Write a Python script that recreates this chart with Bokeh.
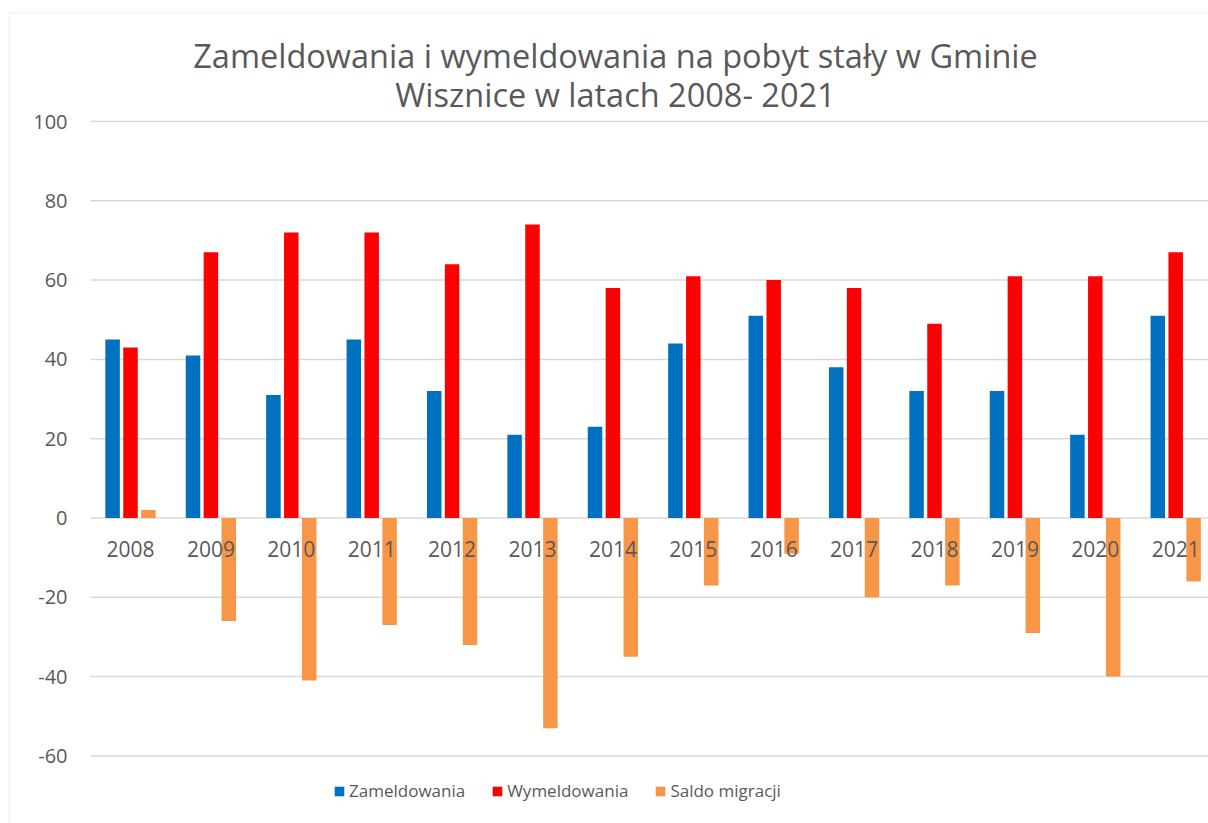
from bokeh.plotting import figure
from bokeh.models import (ColumnDataSource, Range1d, Legend, LegendItem,
                          Label, BoxAnnotation)
from bokeh.transform import dodge
from bokeh.core.properties import value
from bokeh.embed import file_html
from bokeh.resources import INLINE

years = ["2008", "2009", "2010", "2011", "2012", "2013", "2014",
         "2015", "2016", "2017", "2018", "2019", "2020", "2021"]
zameldowania = [45, 41, 31, 45, 32, 21, 23, 44, 51, 38, 32, 32, 21, 51]
wymeldowania = [43, 67, 72, 72, 64, 74, 58, 61, 60, 58, 49, 61, 61, 67]
saldo = [2, -26, -41, -27, -32, -53, -35, -17, -9, -20, -17, -29, -40, -16]
y_ticks = [-60, -40, -20, 0, 20, 40, 60, 80, 100]
series_names = ["Zameldowania", "Wymeldowania", "Saldo migracji"]
title_lines = ["Zameldowania i wymeldowania na pobyt stały w Gminie",
               "Wisznice w latach 2008- 2021"]

FONT = "Open Sans"
GREY = "#595959"
W, H = 1208, 823

# layout geometry (pixels)
X0_PX, PX_PER_CAT = 130.0, 80.4      # centre of first category, category pitch
Y0_PX, PX_PER_UNIT = 517.5, 3.965    # zero line, pixels per unit
PLOT_LEFT_PX = 90.0
TICK_LABEL_RIGHT_PX = 67.0


def xd(px):
    return (px - X0_PX) / PX_PER_CAT


def yd(py):
    return (Y0_PX - py) / PX_PER_UNIT


src = ColumnDataSource(dict(
    x=list(range(len(years))), year=years,
    zam=zameldowania, wym=wymeldowania, sal=saldo,
    ly=[yd(548.5)] * len(years),
))

p = figure(width=W, height=H, output_backend="svg", toolbar_location=None,
           x_range=Range1d(xd(0), xd(W)), y_range=Range1d(yd(H), yd(0)),
           min_border=0)
p.outline_line_color = None
p.background_fill_color = "white"
p.border_fill_color = "white"
p.xaxis.visible = False
p.yaxis.visible = False
p.xgrid.visible = False
p.ygrid.visible = False

# gridlines
p.segment(x0=[xd(PLOT_LEFT_PX)] * len(y_ticks), x1=[xd(W + 20)] * len(y_ticks),
          y0=y_ticks, y1=y_ticks, line_color="#d9d9d9", line_width=1.5)

# y tick labels
p.text(x=[xd(TICK_LABEL_RIGHT_PX)] * len(y_ticks), y=y_ticks,
       text=[str(t) for t in y_ticks], text_font=value(FONT),
       text_font_size="20px", text_color=GREY, text_align="right",
       text_baseline="middle")

w = 14.5 / PX_PER_CAT
off = 17.9 / PX_PER_CAT
r1 = p.vbar(x=dodge("x", -off, range=p.x_range), top="zam", bottom=0, width=w,
            source=src, fill_color="#0070C0", line_color=None)
r2 = p.vbar(x=dodge("x", 0, range=p.x_range), top="wym", bottom=0, width=w,
            source=src, fill_color="#FF0000", line_color=None)
r3 = p.vbar(x=dodge("x", off, range=p.x_range), top="sal", bottom=0, width=w,
            source=src, fill_color="#F79646", line_color=None)

# category labels next to the zero line
p.text(x="x", y="ly", text="year", source=src, text_font=value(FONT),
       text_font_size="21px", text_color=GREY, text_align="center",
       text_baseline="middle")

legend = Legend(items=[LegendItem(label=series_names[0], renderers=[r1]),
                       LegendItem(label=series_names[1], renderers=[r2]),
                       LegendItem(label=series_names[2], renderers=[r3])],
                orientation="horizontal", location=(333, 21),
                label_text_font=FONT, label_text_font_size="17px",
                label_text_color=GREY, glyph_width=12, glyph_height=12,
                label_standoff=4, spacing=26, padding=0, margin=0,
                border_line_color=None, background_fill_alpha=0)
p.add_layout(legend, "center")

for t, base in zip(title_lines, [55, 94]):
    p.add_layout(Label(x=615, y=H - base, x_units="screen", y_units="screen",
                       text=t, text_font=FONT, text_font_size="32.5px",
                       text_color=GREY, text_align="center",
                       text_baseline="alphabetic"))

p.add_layout(BoxAnnotation(left=9, right=W + 50, top=H - 12, bottom=-50,
                           left_units="screen", right_units="screen",
                           top_units="screen", bottom_units="screen",
                           fill_alpha=0, line_color="#d9d9d9", line_width=2))

open("out.html", "w").write(file_html(p, INLINE))
